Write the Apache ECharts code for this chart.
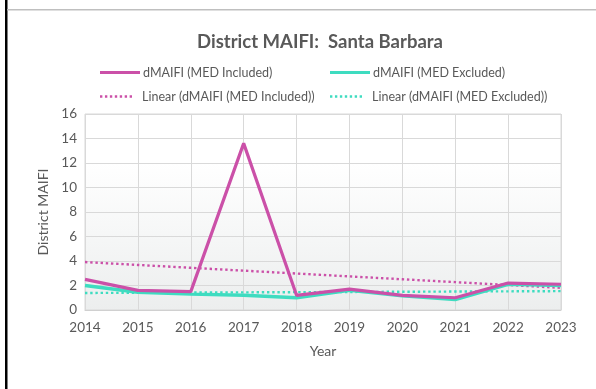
<!DOCTYPE html>
<html>
<head>
<meta charset="utf-8">
<script src="https://cdn.jsdelivr.net/npm/echarts@6/dist/echarts.min.js"></script>
<style>
  html, body { margin: 0; padding: 0; background: #fff; }
  #chart { width: 596px; height: 389px; }
</style>
</head>
<body>
<div id="chart"></div>
<script>
// Reporting years on the category axis
const years = ['2014', '2015', '2016', '2017', '2018', '2019', '2020', '2021', '2022', '2023'];

// District MAIFI, with and without major event days
const medIncluded = [2.5, 1.6, 1.5, 13.6, 1.2, 1.7, 1.2, 1.0, 2.2, 2.1];
const medExcluded = [2.0, 1.45, 1.3, 1.2, 1.0, 1.6, 1.15, 0.85, 2.1, 2.0];

// Value axis ticks
const yTicks = [0, 2, 4, 6, 8, 10, 12, 14, 16];

const seriesNames = {
  inc: 'dMAIFI (MED Included)',
  exc: 'dMAIFI (MED Excluded)',
  incTrend: 'Linear (dMAIFI (MED Included))',
  excTrend: 'Linear (dMAIFI (MED Excluded))'
};

// Least-squares trend line over the year index
function linearTrend(values) {
  const n = values.length;
  const mx = (n - 1) / 2;
  const my = values.reduce((a, b) => a + b, 0) / n;
  let sxy = 0, sxx = 0;
  values.forEach((v, i) => { sxy += (i - mx) * (v - my); sxx += (i - mx) * (i - mx); });
  const slope = sxy / sxx;
  return values.map((_, i) => +(my + slope * (i - mx)).toFixed(4));
}

const PINK = '#CB50A8';
const TEAL = '#3EDCC0';
const TEXT = '#595959';
const FONT = 'Lato, "Open Sans", sans-serif';

// legend glyphs: a solid bar and a row of small square dots
const SOLID_ICON = 'path://M0,0H40V3H0Z';
const DOT_ICON = 'path://M0,0H2.4V2.4H0Z M5,0H7.4V2.4H5Z M10,0H12.4V2.4H10Z M15,0H17.4V2.4H15Z M20,0H22.4V2.4H20Z M25,0H27.4V2.4H25Z M30,0H32.4V2.4H30Z';

const chart = echarts.init(document.getElementById('chart'), null, { renderer: 'canvas' });

const legendBase = {
  padding: 0,
  itemGap: 4,
  textStyle: { color: TEXT, fontSize: 12.5, fontFamily: FONT },
  selectedMode: false
};

chart.setOption({
  animation: false,
  backgroundColor: '#ffffff',
  title: {
    text: 'District MAIFI:  Santa Barbara',
    left: 315,
    top: 28,
    textAlign: 'center',
    textStyle: { color: TEXT, fontSize: 18.5, fontWeight: 'bold', fontFamily: FONT }
  },
  legend: [
    Object.assign({}, legendBase, { data: [seriesNames.inc], left: 100, top: 66, icon: SOLID_ICON, itemWidth: 40, itemHeight: 3, textStyle: Object.assign({}, legendBase.textStyle, { padding: [0, 0, 0, -2] }) }),
    Object.assign({}, legendBase, { data: [seriesNames.exc], left: 330, top: 66, icon: SOLID_ICON, itemWidth: 40, itemHeight: 3, textStyle: Object.assign({}, legendBase.textStyle, { padding: [0, 0, 0, -2] }) }),
    Object.assign({}, legendBase, { data: [seriesNames.incTrend], left: 100, top: 90, icon: DOT_ICON, itemWidth: 32, itemHeight: 2.4, textStyle: Object.assign({}, legendBase.textStyle, { padding: [0, 0, 0, 5] }) }),
    Object.assign({}, legendBase, { data: [seriesNames.excTrend], left: 330, top: 90, icon: DOT_ICON, itemWidth: 32, itemHeight: 2.4, textStyle: Object.assign({}, legendBase.textStyle, { padding: [0, 0, 0, 5] }) })
  ],
  grid: {
    left: 85,
    right: 35,
    top: 114,
    bottom: 79,
    show: true,
    borderColor: '#d9d9d9',
    borderWidth: 1,
    backgroundColor: new echarts.graphic.LinearGradient(0, 0, 0, 1, [
      { offset: 0, color: '#ffffff' },
      { offset: 0.25, color: '#ffffff' },
      { offset: 1, color: '#eceeee' }
    ])
  },
  xAxis: {
    type: 'category',
    data: years,
    boundaryGap: false,
    name: 'Year',
    nameLocation: 'middle',
    nameGap: 34,
    nameTextStyle: { color: TEXT, fontSize: 14, fontFamily: FONT },
    axisLine: { lineStyle: { color: '#d0d0d0', width: 1 } },
    axisTick: { show: false },
    axisLabel: { color: TEXT, fontSize: 13.5, fontFamily: FONT, margin: 11 },
    splitLine: { show: true, lineStyle: { color: '#d9d9d9', width: 1 } }
  },
  yAxis: {
    type: 'value',
    min: yTicks[0],
    max: yTicks[yTicks.length - 1],
    interval: yTicks[1] - yTicks[0],
    name: 'District MAIFI',
    nameLocation: 'middle',
    nameGap: 28,
    nameTextStyle: { color: TEXT, fontSize: 14, fontFamily: FONT },
    axisLine: { show: false },
    axisTick: { show: false },
    axisLabel: { color: TEXT, fontSize: 13.5, fontFamily: FONT, margin: 8 },
    splitLine: { show: true, lineStyle: { color: '#d9d9d9', width: 1 } }
  },
  series: [
    {
      name: seriesNames.incTrend,
      type: 'line',
      data: linearTrend(medIncluded),
      symbol: 'none',
      z: 3,
      lineStyle: { color: PINK, width: 2.4, type: [2.4, 2.8], cap: 'butt' },
      itemStyle: { color: PINK }
    },
    {
      name: seriesNames.excTrend,
      type: 'line',
      data: linearTrend(medExcluded),
      symbol: 'none',
      z: 3,
      lineStyle: { color: TEAL, width: 2.4, type: [2.4, 2.8], cap: 'butt' },
      itemStyle: { color: TEAL }
    },
    {
      name: seriesNames.exc,
      type: 'line',
      data: medExcluded,
      symbol: 'none',
      z: 4,
      lineStyle: { color: TEAL, width: 3.4 },
      itemStyle: { color: TEAL }
    },
    {
      name: seriesNames.inc,
      type: 'line',
      data: medIncluded,
      symbol: 'none',
      z: 5,
      lineStyle: { color: PINK, width: 3.2 },
      itemStyle: { color: PINK }
    }
  ],
  graphic: [
    // frame edges around the chart panel
    { type: 'rect', left: 5, top: 0, shape: { width: 2.5, height: 389 }, style: { fill: '#000000' }, silent: true },
    { type: 'rect', left: 7, top: 9, shape: { width: 589, height: 1.5 }, style: { fill: '#bfbfbf' }, silent: true }
  ]
});
</script>
</body>
</html>
